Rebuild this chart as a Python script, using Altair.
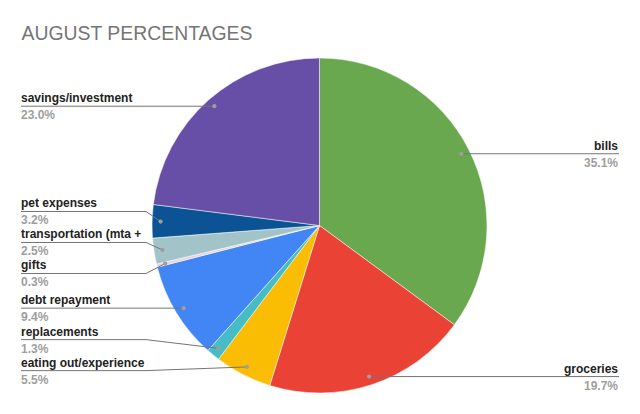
import math
import altair as alt
import pandas as pd

# ---- data ----
categories = ["bills", "groceries", "eating out/experience", "replacements",
              "debt repayment", "gifts", "transportation (mta +",
              "pet expenses", "savings/investment"]
values = [35.1, 19.7, 5.5, 1.3, 9.4, 0.3, 2.5, 3.2, 23.0]
colors = ["#6aa84f", "#ea4335", "#fbbc04", "#46bdc6", "#4285f4",
          "#ead1dc", "#a2c4c9", "#0b5394", "#674ea7"]
pct_labels = ["35.1%", "19.7%", "5.5%", "1.3%", "9.4%", "0.3%", "2.5%", "3.2%", "23.0%"]
title_text = "AUGUST PERCENTAGES"

# ---- layout constants (chart coordinates, page minus 8px margin) ----
W, H = 624, 398
CX, CY, R = 311.5, 217.5, 167.5
DOT_R = 159
GAP = 31
LEFT_X, RIGHT_X = 13, 610
BEND_L, BEND_R = CX - R - 6, CX + R + 6
FONT = "Arial, Liberation Sans"

total = sum(values)
rows, cum = [], 0.0
for i, (c, v) in enumerate(zip(categories, values)):
    mid = (cum + v / 2) / total * 2 * math.pi
    cum += v
    dx = CX + DOT_R * math.sin(mid)
    dy = CY - DOT_R * math.cos(mid)
    rows.append(dict(idx=i, category=c, value=v, pct=pct_labels[i],
                     dot_x=dx, dot_y=dy, side="right" if mid < math.pi else "left"))


def spread(items):
    items = sorted(items, key=lambda r: r["dot_y"])
    clusters = []
    for it in items:
        clusters.append([it])
        while True:
            cl = clusters[-1]
            top = sum(r["dot_y"] - k * GAP for k, r in enumerate(cl)) / len(cl)
            if len(clusters) > 1:
                prev = clusters[-2]
                ptop = sum(r["dot_y"] - k * GAP for k, r in enumerate(prev)) / len(prev)
                if ptop + len(prev) * GAP > top:
                    clusters[-2] = prev + cl
                    clusters.pop()
                    continue
            break
    for cl in clusters:
        top = sum(r["dot_y"] - k * GAP for k, r in enumerate(cl)) / len(cl)
        if len(cl) > 1:
            top -= 2.5  # shared labels sit slightly higher
        for k, r in enumerate(cl):
            r["label_y"] = top + k * GAP


spread([r for r in rows if r["side"] == "left"])
spread([r for r in rows if r["side"] == "right"])

df = pd.DataFrame(rows)

line_rows = []
for r in rows:
    if r["side"] == "left":
        pts = [(LEFT_X, r["label_y"]), (BEND_L, r["label_y"]), (r["dot_x"], r["dot_y"])]
    else:
        pts = [(RIGHT_X + 1, r["label_y"]), (BEND_R, r["label_y"]), (r["dot_x"], r["dot_y"])]
    for k, (x, y) in enumerate(pts):
        line_rows.append(dict(category=r["category"], k=k, x=x, y=y))
lines_df = pd.DataFrame(line_rows)

xs = alt.Scale(domain=[0, W], nice=False, zero=False)
ys = alt.Scale(domain=[0, H], nice=False, zero=False, reverse=True)

pie = alt.Chart(df).mark_arc(radius=R, stroke="#ffffff", strokeWidth=0.5).encode(
    theta=alt.Theta("value:Q", stack=True),
    order=alt.Order("idx:Q", sort="ascending"),
    color=alt.Color("category:N", scale=alt.Scale(domain=categories, range=colors), legend=None),
    x=alt.value(CX), y=alt.value(CY),
)

leaders = alt.Chart(lines_df).mark_line(color="#757575", strokeWidth=1).encode(
    x=alt.X("x:Q", scale=xs, axis=None),
    y=alt.Y("y:Q", scale=ys, axis=None),
    detail="category:N",
    order="k:Q",
)

dots = alt.Chart(df).mark_circle(size=18, color="#9e9e9e", opacity=1).encode(
    x=alt.X("dot_x:Q", scale=xs, axis=None),
    y=alt.Y("dot_y:Q", scale=ys, axis=None),
)

def labels(side, align, xpos):
    base = alt.Chart(df).transform_filter(alt.datum.side == side)
    name = base.mark_text(align=align, baseline="alphabetic", dy=-4, font=FONT,
                          fontSize=12, fontWeight="bold", color="#222222").encode(
        x=alt.value(xpos), y=alt.Y("label_y:Q", scale=ys, axis=None), text="category:N")
    pct = base.mark_text(align=align, baseline="alphabetic", dy=13, font=FONT,
                         fontSize=12, fontWeight="bold", color="#9e9e9e").encode(
        x=alt.value(xpos), y=alt.Y("label_y:Q", scale=ys, axis=None), text="pct:N")
    return name + pct

title = alt.Chart(pd.DataFrame({"t": [title_text]})).mark_text(
    align="left", baseline="alphabetic", font=FONT, fontSize=19.4, color="#757575"
).encode(x=alt.value(13.5), y=alt.value(31.5), text="t:N")

chart = alt.layer(pie, leaders, dots, labels("left", "left", LEFT_X),
                  labels("right", "right", RIGHT_X), title).properties(
    width=W, height=H, padding=0, autosize=alt.AutoSizeParams(type="none")
).configure_view(stroke=None)

chart.save("out.html", embed_options={"renderer": "svg", "actions": False})
